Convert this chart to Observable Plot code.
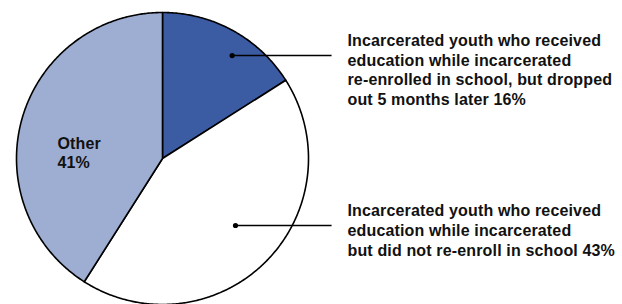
<!DOCTYPE html>
<html><head><meta charset="utf-8">
<script src="https://cdn.jsdelivr.net/npm/d3@7"></script>
<script src="https://cdn.jsdelivr.net/npm/@observablehq/plot@0.6"></script>
<style>body{margin:0;background:#fff} svg{display:block} svg text{letter-spacing:0.15px}</style>
</head><body><div id="chart"></div>
<script>
// ---- data ----
const categories = ["Re-enrolled, dropped out 5 months later", "Did not re-enroll", "Other"];
const shares = [16, 43, 41];
const labels = [
  "Incarcerated youth who received\neducation while incarcerated\nre-enrolled in school, but dropped\nout 5 months later 16%",
  "Incarcerated youth who received\neducation while incarcerated\nbut did not re-enroll in school 43%",
  "Other\n41%"
];
const colors = ["#3B5BA3", "#FFFFFF", "#9DAED2"];

// ---- layout (unit-circle coordinates) ----
const dotPos = [[0.477, 0.705], [0.50, -0.459], null];
const lineEndX = 1.158;
const textPos = [[1.267, 0.610], [1.267, -0.488], [-0.719, 0.044]];

// ---- slice geometry from shares ----
const total = d3.sum(shares);
let acc = 0;
const slicePts = [];
categories.forEach((c, i) => {
  const a0 = acc / total * 2 * Math.PI;
  acc += shares[i];
  const a1 = acc / total * 2 * Math.PI;
  slicePts.push({cat: c, x: 0, y: 0});
  const n = Math.max(2, Math.ceil((a1 - a0) / (Math.PI / 360)));
  for (let k = 0; k <= n; k++) {
    const a = a0 + (a1 - a0) * k / n;
    slicePts.push({cat: c, x: Math.sin(a), y: Math.cos(a)});
  }
});

const marks = categories.map((c, i) =>
  Plot.line(slicePts.filter(d => d.cat === c), {
    x: "x", y: "y", curve: "linear-closed",
    fill: colors[i], stroke: "#000", strokeWidth: 1.6, strokeLinejoin: "round"
  })
);

const callouts = categories.map((c, i) => dotPos[i] ? {x1: dotPos[i][0], y1: dotPos[i][1], x2: lineEndX, y2: dotPos[i][1]} : null).filter(Boolean);
marks.push(Plot.link(callouts, {x1: "x1", y1: "y1", x2: "x2", y2: "y2", stroke: "#000", strokeWidth: 1.5}));
marks.push(Plot.dot(callouts, {x: "x1", y: "y1", r: 2.6, fill: "#000", stroke: null}));

const textData = labels.map((t, i) => ({t, x: textPos[i][0], y: textPos[i][1]}));
marks.push(Plot.text(textData, {
  x: "x", y: "y", text: "t", textAnchor: "start", lineAnchor: "middle",
  lineHeight: 1.22, fontSize: 16, fontWeight: "bold", fill: "#111"
}));

const chart = Plot.plot({
  width: 622, height: 304,
  margin: 0,
  x: {domain: [-1, 1], range: [16, 308], axis: null},
  y: {domain: [-1, 1], range: [304, 12], axis: null},
  style: {fontFamily: "'Liberation Sans', Arial, sans-serif", background: "#fff", overflow: "visible"},
  marks
});
document.getElementById("chart").appendChild(chart);
</script>
</body></html>
